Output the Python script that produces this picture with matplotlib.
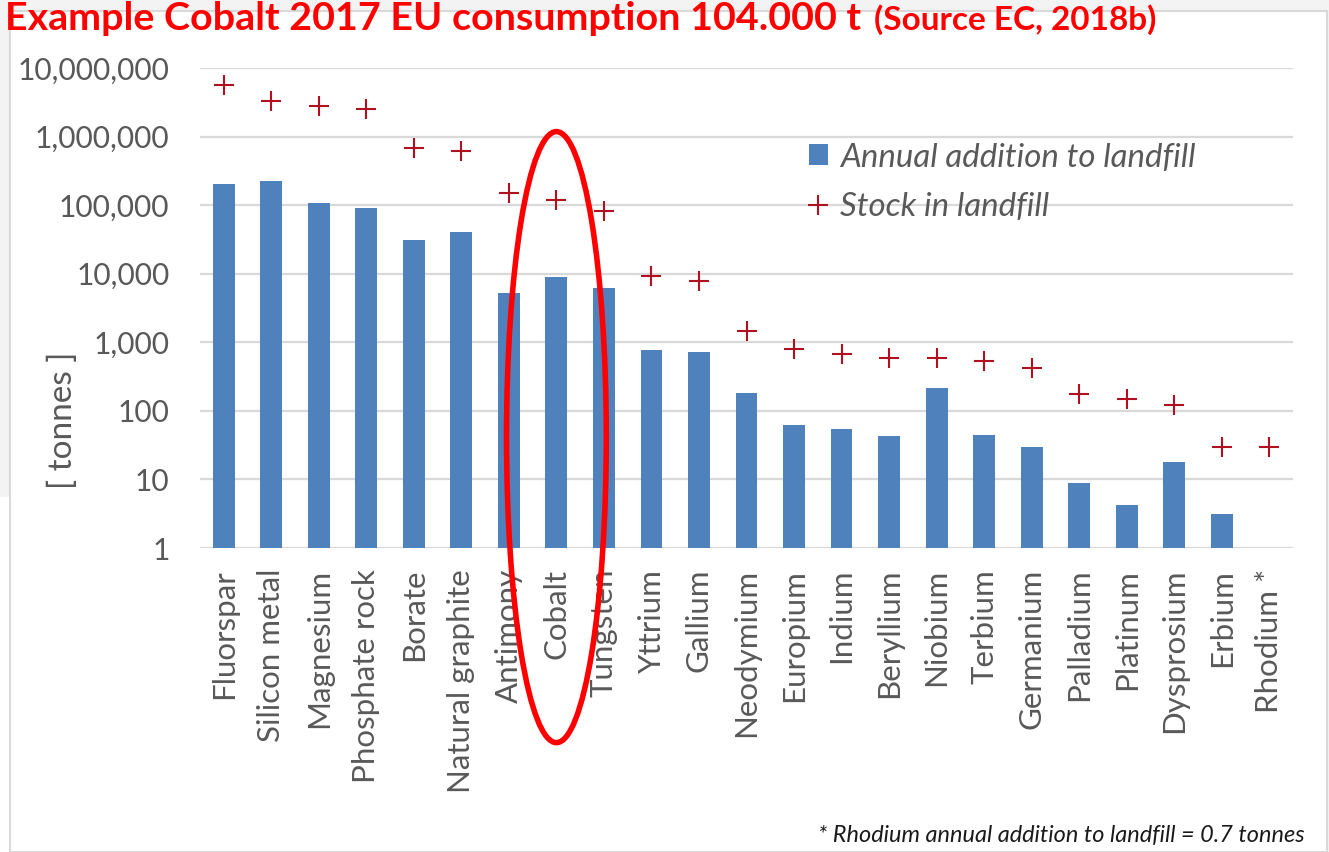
import matplotlib
matplotlib.use("Agg")
import matplotlib.pyplot as plt
from matplotlib.patches import Rectangle, Ellipse, Patch
from matplotlib.lines import Line2D
from matplotlib import transforms
from matplotlib.ticker import FixedLocator, NullLocator

# ---------------- data ----------------
materials = ["Fluorspar", "Silicon metal", "Magnesium", "Phosphate rock", "Borate",
             "Natural graphite", "Antimony", "Cobalt", "Tungsten", "Yttrium", "Gallium",
             "Neodymium", "Europium", "Indium", "Beryllium", "Niobium", "Terbium",
             "Germanium", "Palladium", "Platinum", "Dysprosium", "Erbium", "Rhodium *"]
annual_addition = [202000, 226000, 109000, 89500, 31000, 40900, 5260, 9080, 6150, 763, 722,
                   185, 63, 55, 43, 214, 44, 30, 9.0, 4.3, 18, 3.1, 0.7]
stock_in_landfill = [5600000, 3290000, 2780000, 2490000, 689000, 617000, 148000, 120000, 80900,
                     9400, 7940, 1460, 790, 668, 597, 597, 534, 427, 179, 151, 121, 29.4, 29.4]
y_ticks = [1, 10, 100, 1000, 10000, 100000, 1000000, 10000000]
y_tick_labels = ["1", "10", "100", "1,000", "10,000", "100,000", "1,000,000", "10,000,000"]
title_main = "Example Cobalt 2017 EU consumption 104.000 t"
title_source = "(Source EC, 2018b)"
legend_labels = ["Annual addition to landfill", "Stock in landfill"]
y_label = "[ tonnes ]"
footnote = "* Rhodium annual addition to landfill = 0.7 tonnes"
highlight = "Cobalt"

# ---------------- figure ----------------
W, H = 1329, 852
DPI = 100
fig = plt.figure(figsize=(W / DPI, H / DPI), dpi=DPI, facecolor="#f3f3f3")

def fx(px):
    return px / W

def fy(py):
    return 1 - py / H

# slide frame
fig.patches.append(Rectangle((fx(10), 0), fx(1327) - fx(10), fy(11), transform=fig.transFigure,
                             facecolor="white", edgecolor="#d9d9d9", linewidth=1.5, zorder=-5))
fig.patches.append(Rectangle((0, 0), fx(9), fy(497), transform=fig.transFigure,
                             facecolor="white", edgecolor="none", zorder=-5))

ax = fig.add_axes([fx(200), fy(548), fx(1293) - fx(200), fy(68) - fy(548)])
ax.set_facecolor("none")
ax.set_zorder(2)

FONT = ["Lato", "DejaVu Sans"]
GRAY = "#595959"
BLUE = "#4f81bd"
DARKRED = "#b01020"

x = list(range(len(materials)))
ax.set_yscale("log")
ax.bar(x, annual_addition, width=0.46, color=BLUE, zorder=3)
ax.plot(x, stock_in_landfill, linestyle="none", marker="+", markersize=14, mew=1.5,
        color=DARKRED, zorder=4)

ax.set_ylim(1, 1e7)
ax.set_xlim(-0.5, len(materials) - 0.5)
ax.yaxis.set_major_locator(FixedLocator(y_ticks))
ax.yaxis.set_minor_locator(NullLocator())
ax.set_yticklabels(y_tick_labels, fontsize=21.5, color=GRAY, family=FONT)
ax.set_xticks(x)
ax.set_xticklabels(materials, rotation=90, fontsize=22.5, color=GRAY, family=FONT,
                   va="top", ha="center")
ax.tick_params(axis="both", length=0)
ax.tick_params(axis="y", pad=22)
ax.tick_params(axis="x", pad=15)
for s in ax.spines.values():
    s.set_visible(False)
ax.grid(axis="y", color="#d9d9d9", linewidth=1.6, zorder=0)
ax.set_axisbelow(True)

ax.set_ylabel(y_label, fontsize=24, color=GRAY, family=FONT)
ax.yaxis.set_label_coords(-0.112, 0.267)

# legend
handles = [Patch(facecolor=BLUE, edgecolor="none"),
           Line2D([], [], linestyle="none", marker="+", markersize=14, mew=1.5, color=DARKRED)]
leg = ax.legend(handles, legend_labels, loc="upper left",
                bbox_to_anchor=(fx(792), fy(126)), bbox_transform=fig.transFigure,
                frameon=False, borderpad=0, handlelength=0.6, handleheight=0.6,
                handletextpad=0.35, labelspacing=0.58,
                prop={"family": FONT, "style": "italic", "size": 23.8})
for t in leg.get_texts():
    t.set_color(GRAY)

# highlight ellipse around Cobalt
ci = materials.index(highlight)
blend = transforms.blended_transform_factory(ax.transData, ax.transAxes)
ax.add_patch(Ellipse((ci, 0.231), width=2.1, height=1.273, transform=blend, fill=False,
                     edgecolor="#ff0000", linewidth=4, clip_on=False, zorder=6))

# titles and note
renderer = fig.canvas.get_renderer()

def fit(t, target_px):
    bb = t.get_window_extent(renderer)
    t.set_fontsize(t.get_fontsize() * target_px / bb.width)

t1 = fig.text(fx(5), fy(30), title_main, color="#ff0000", fontweight="bold", family=FONT,
              fontsize=30, va="baseline", ha="left")
fit(t1, 855)
t2 = fig.text(fx(874), fy(30), title_source, color="#ff0000", fontweight="bold", family=FONT,
              fontsize=24, va="baseline", ha="left")
fit(t2, 283)
t3 = fig.text(fx(1305), fy(842), footnote, color="#1a1a1a", style="italic", family=FONT,
              fontsize=14, va="baseline", ha="right")
fit(t3, 490)

fig.savefig("out.png", dpi=DPI, facecolor=fig.get_facecolor())
